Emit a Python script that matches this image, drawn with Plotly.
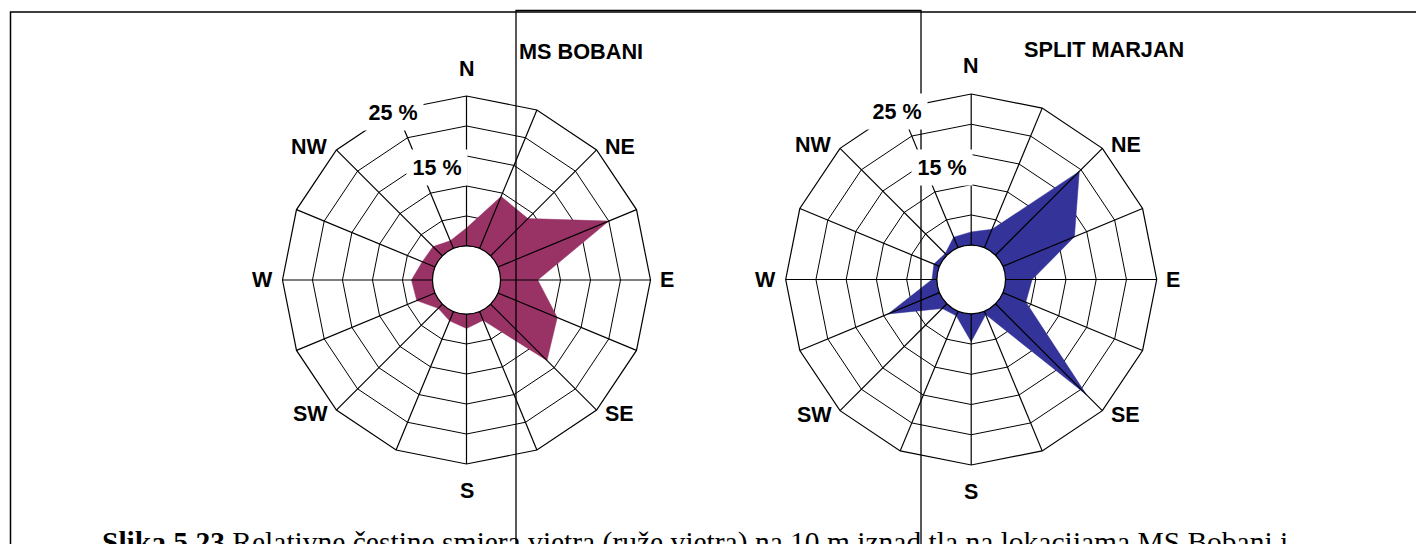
import math
import plotly.graph_objects as go

# Wind directions (16-point compass) and relative frequencies in %
directions = ["N", "NNE", "NE", "ENE", "E", "ESE", "SE", "SSE",
              "S", "SSW", "SW", "WSW", "W", "WNW", "NW", "NNW"]
compass_points = ["N", "NE", "E", "SE", "S", "SW", "W", "NW"]
ms_bobani = [3.0, 9.4, 8.8, 20.0, 6.2, 10.7, 13.3, 1.6,
             2.4, 1.7, 1.0, 3.3, 3.5, 2.3, 2.2, 1.4]
split_marjan = [2.2, 3.3, 19.6, 12.8, 4.4, 4.1, 21.3, 0.6,
                4.6, 0.8, 1.1, 9.2, 0.8, 1.0, 0.4, 1.9]
station_names = ["MS BOBANI", "SPLIT MARJAN"]
ring_values = [5, 10, 15, 20]
r_max = 25
scale_labels = ["25 %", "15 %"]
caption = ("<b>Slika 5.23</b> Relativne čestine smjera vjetra (ruže vjetra) "
           "na 10 m iznad tla na lokacijama MS Bobani i")

W, H = 1416, 544
HOLE = 0.185
SANS = "Liberation Sans"
GRID_W = 1.2

# rose geometry in pixels: centre x, centre y (from top), outer radius
roses = [
    dict(cx=466.5, cy=280.0, R=184.0, values=ms_bobani, color="#993366",
         title=station_names[0], title_x=516.5, title_top=37.0),
    dict(cx=971.2, cy=279.5, R=185.5, values=split_marjan, color="#333399",
         title=station_names[1], title_x=1022.0, title_top=35.0),
]

# compass label placement relative to the outer vertex: dx, dy, anchor
label_offsets = {
    "N": (0, -27.5, "center"), "NE": (7.5, -3, "left"),
    "E": (8.5, 0, "left"), "SE": (7.5, 4, "left"),
    "S": (0, 26.5, "center"), "SW": (-7.5, 4, "right"),
    "W": (-8.5, 0, "right"), "NW": (-7.5, -3, "right"),
}


def px(x):
    return x / W


def py(y):
    return 1 - y / H


fig = go.Figure()
shapes = []
annotations = []

for i, rose in enumerate(roses):
    pid = "polar" if i == 0 else f"polar{i + 1}"
    cx, cy, R = rose["cx"], rose["cy"], rose["R"]
    vals = rose["values"]

    # filled frequency polygon
    fig.add_trace(go.Scatterpolar(
        r=vals + [vals[0]], theta=directions + [directions[0]],
        mode="lines", fill="toself", fillcolor=rose["color"],
        line=dict(color=rose["color"], width=0.5),
        subplot=pid, showlegend=False, hoverinfo="skip"))

    # direction spokes drawn over the fill
    spoke_r, spoke_t = [], []
    for d in directions:
        spoke_r += [0, r_max, None]
        spoke_t += [d, d, d]
    fig.add_trace(go.Scatterpolar(
        r=spoke_r, theta=spoke_t, mode="lines",
        line=dict(color="black", width=GRID_W),
        subplot=pid, showlegend=False, hoverinfo="skip"))

    polar = dict(
        domain=dict(x=[px(cx - R), px(cx + R)], y=[py(cy + R), py(cy - R)]),
        hole=HOLE,
        gridshape="linear",
        bgcolor="white",
        radialaxis=dict(range=[0, r_max], tickvals=ring_values,
                        showticklabels=False, ticks="", showline=False,
                        gridcolor="black", gridwidth=GRID_W),
        angularaxis=dict(type="category", categoryarray=directions,
                         direction="clockwise", rotation=90,
                         showticklabels=False, ticks="",
                         showgrid=False, showline=True,
                         linecolor="black", linewidth=GRID_W),
    )
    fig.update_layout(**{pid: polar})

    # round centre hole
    h = HOLE * R
    shapes.append(dict(type="circle", xref="paper", yref="paper",
                       x0=px(cx - h), x1=px(cx + h),
                       y0=py(cy + h), y1=py(cy - h),
                       fillcolor="white", line=dict(color="black", width=GRID_W),
                       layer="above"))

    # compass point labels around the outer polygon
    for name in compass_points:
        ang = math.radians(22.5 * directions.index(name))
        vx, vy = cx + R * math.sin(ang), cy - R * math.cos(ang)
        dx, dy, anchor = label_offsets[name]
        annotations.append(dict(text=name, xref="paper", yref="paper",
                                x=px(vx + dx), y=py(vy + dy),
                                xanchor=anchor, yanchor="middle",
                                showarrow=False, borderpad=0,
                                font=dict(family=SANS, size=21.5, color="black",
                                          weight="bold")))

    # station title
    annotations.append(dict(text=rose["title"], xref="paper", yref="paper",
                            x=px(rose["title_x"]), y=py(rose["title_top"]),
                            xanchor="left", yanchor="top", showarrow=False,
                            font=dict(family=SANS, size=21.7, color="black",
                                      weight="bold")))

    # scale labels on the NNW spoke
    for lab, (dx, dy) in zip(scale_labels, [(-74.0, -167.5), (-29.5, -112.3)]):
        annotations.append(dict(text=lab, xref="paper", yref="paper",
                                x=px(cx + dx), y=py(cy + dy),
                                xanchor="center", yanchor="middle",
                                showarrow=False, bgcolor="white", borderpad=5.5,
                                font=dict(family=SANS, size=21.5, color="black",
                                          weight="bold")))

# page frame and the box around the middle
shapes.append(dict(type="rect", xref="paper", yref="paper",
                   x0=px(10.5), x1=px(1425), y0=py(560), y1=py(12),
                   line=dict(color="black", width=1.5), layer="above"))
shapes.append(dict(type="rect", xref="paper", yref="paper",
                   x0=px(516), x1=px(921), y0=py(560), y1=py(10.5),
                   line=dict(color="black", width=1.3), layer="above"))

# figure caption
annotations.append(dict(text=caption, xref="paper", yref="paper",
                        x=px(100), y=py(524), xanchor="left", yanchor="top",
                        showarrow=False,
                        font=dict(family="Liberation Serif", size=29.5,
                                  color="black")))

fig.update_layout(width=W, height=H, margin=dict(l=0, r=0, t=0, b=0),
                  paper_bgcolor="white", plot_bgcolor="white",
                  shapes=shapes, annotations=annotations, showlegend=False)

fig.write_html("out.html")
